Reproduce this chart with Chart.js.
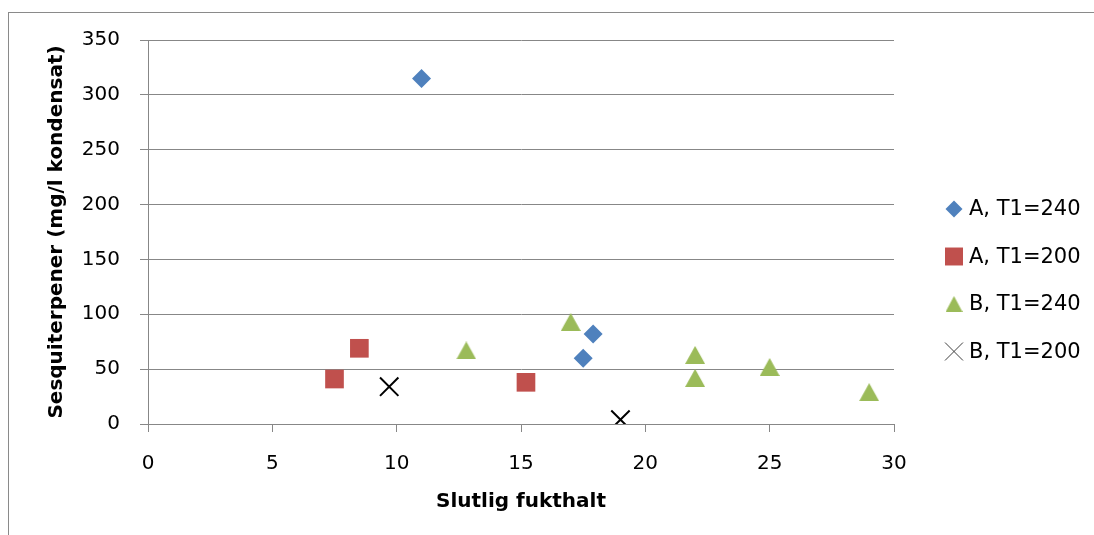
<!DOCTYPE html>
<html>
<head>
<meta charset="utf-8">
<title>Sesquiterpener vs slutlig fukthalt</title>
<script src="https://cdn.jsdelivr.net/npm/chart.js@4/dist/chart.umd.min.js"></script>
<style>
  html, body { margin: 0; padding: 0; background: #ffffff; overflow: hidden; }
  canvas { display: block; }
</style>
</head>
<body>
<canvas id="chart" width="1094" height="535"></canvas>
<script>
// Series names
const seriesNames = ['A, T1=240', 'A, T1=200', 'B, T1=240', 'B, T1=200'];

// Slutlig fukthalt (x) and sesquiterpener (y) per series
const a240X = [11, 17.5, 17.9];
const a240Y = [315, 60, 82];
const a200X = [7.5, 8.5, 15.2];
const a200Y = [41, 69, 38];
const b240X = [12.8, 17, 22, 22, 25, 29];
const b240Y = [67, 93, 63, 42, 52, 29];
const b200X = [9.7, 19];
const b200Y = [34, 4];

// Axis ticks
const xTicks = [0, 5, 10, 15, 20, 25, 30];
const yTicks = [0, 50, 100, 150, 200, 250, 300, 350];

const axisTitleX = 'Slutlig fukthalt';
const axisTitleY = 'Sesquiterpener (mg/l kondensat)';

const BLUE = '#4F81BD';
const RED = '#C0504D';
const GREEN = '#9BBB59';
const GRID = '#878787';

function pairs(xs, ys) {
  return xs.map((x, i) => ({ x: x, y: ys[i] }));
}

// Upward triangle drawn centred on its bounding box
function triangleMarker(w, h, color) {
  const c = document.createElement('canvas');
  c.width = w;
  c.height = h;
  const g = c.getContext('2d');
  g.fillStyle = color;
  g.beginPath();
  g.moveTo(w / 2, 0);
  g.lineTo(w, h);
  g.lineTo(0, h);
  g.closePath();
  g.fill();
  return c;
}

const triPlot = triangleMarker(20, 18, GREEN);
const triLegend = triangleMarker(17, 16, GREEN);

const FONT = "'DejaVu Sans', 'Liberation Sans', sans-serif";

// Thin frame along the top and left edges
const framePlugin = {
  id: 'frame',
  beforeDraw(chart) {
    const ctx = chart.ctx;
    ctx.save();
    ctx.fillStyle = '#ffffff';
    ctx.fillRect(0, 0, chart.width, chart.height);
    ctx.fillStyle = '#8a8a8a';
    ctx.fillRect(8, 12, 1, chart.height - 12);
    ctx.fillRect(8, 12, chart.width - 8, 1);
    ctx.restore();
  }
};

// Legend column on the right side
const sideLegendPlugin = {
  id: 'sideLegend',
  afterDraw(chart, args, opts) {
    const ctx = chart.ctx;
    ctx.save();
    ctx.font = opts.font;
    ctx.textBaseline = 'middle';
    ctx.textAlign = 'left';
    chart.data.datasets.forEach((ds, i) => {
      const y = opts.top + i * opts.gap;
      const m = opts.markers[i];
      ctx.save();
      ctx.fillStyle = ds.backgroundColor;
      ctx.strokeStyle = m.stroke || ds.borderColor;
      ctx.lineWidth = m.lineWidth;
      const style = m.style || ds.pointStyle;
      if (Chart.helpers && Chart.helpers.drawPoint) {
        Chart.helpers.drawPoint(ctx, {
          pointStyle: style,
          radius: m.radius,
          rotation: 0,
          borderWidth: m.lineWidth
        }, opts.markerX, y);
      }
      ctx.restore();
      ctx.fillStyle = '#000000';
      ctx.fillText(ds.label, opts.textX, y + 1);
    });
    ctx.restore();
  }
};

const chart = new Chart(document.getElementById('chart'), {
  type: 'scatter',
  data: {
    datasets: [
      {
        label: seriesNames[0],
        data: pairs(a240X, a240Y),
        pointStyle: 'rectRot',
        pointRadius: 9.5,
        pointHoverRadius: 9.5,
        backgroundColor: BLUE,
        borderColor: BLUE,
        borderWidth: 0
      },
      {
        label: seriesNames[1],
        data: pairs(a200X, a200Y),
        pointStyle: 'rect',
        pointRadius: 13.2,
        pointHoverRadius: 13.2,
        backgroundColor: RED,
        borderColor: RED,
        borderWidth: 0
      },
      {
        label: seriesNames[2],
        data: pairs(b240X, b240Y),
        pointStyle: triPlot,
        pointRadius: 10,
        backgroundColor: GREEN,
        borderColor: GREEN,
        borderWidth: 0
      },
      {
        label: seriesNames[3],
        data: pairs(b200X, b200Y),
        pointStyle: 'crossRot',
        pointRadius: 13,
        pointHoverRadius: 13,
        backgroundColor: '#000000',
        borderColor: '#000000',
        borderWidth: 2
      }
    ]
  },
  options: {
    responsive: false,
    animation: false,
    devicePixelRatio: 1,
    events: [],
    layout: {
      padding: { left: 0, right: 200, top: 40, bottom: 0 }
    },
    scales: {
      x: {
        type: 'linear',
        min: 0,
        max: 30,
        afterBuildTicks(scale) {
          scale.ticks = xTicks.map(v => ({ value: v }));
        },
        afterFit(scale) {
          scale.height = 111;
        },
        grid: {
          drawOnChartArea: false,
          drawTicks: true,
          tickLength: 8,
          color: GRID,
          lineWidth: 1
        },
        border: { display: true, color: GRID, width: 1 },
        ticks: {
          color: '#000000',
          padding: 20,
          maxRotation: 0,
          font: { family: FONT, size: 20 }
        },
        title: {
          display: true,
          text: axisTitleX,
          color: '#000000',
          padding: { top: 0, bottom: 21 },
          font: { family: FONT, size: 20, weight: 'bold' }
        }
      },
      y: {
        type: 'linear',
        min: 0,
        max: 350,
        afterBuildTicks(scale) {
          scale.ticks = yTicks.map(v => ({ value: v }));
        },
        afterFit(scale) {
          scale.width = 148;
        },
        grid: {
          drawOnChartArea: true,
          drawTicks: true,
          tickLength: 8,
          color: GRID,
          lineWidth: 1
        },
        border: { display: true, color: GRID, width: 1 },
        ticks: {
          color: '#000000',
          padding: 20,
          font: { family: FONT, size: 20 }
        },
        title: {
          display: true,
          text: axisTitleY,
          color: '#000000',
          padding: { top: 45, bottom: 0 },
          font: { family: FONT, size: 20, weight: 'bold' }
        }
      }
    },
    plugins: {
      legend: { display: false },
      tooltip: { enabled: false },
      sideLegend: {
        font: "21px " + FONT,
        top: 209,
        gap: 47.5,
        markerX: 954,
        textX: 969,
        markers: [
          { radius: 8.5, lineWidth: 0 },
          { radius: 12.7, lineWidth: 0 },
          { style: triLegend, radius: 8, lineWidth: 0 },
          { radius: 12.7, lineWidth: 1, stroke: '#404040' }
        ]
      }
    }
  },
  plugins: [framePlugin, sideLegendPlugin]
});
</script>
</body>
</html>
